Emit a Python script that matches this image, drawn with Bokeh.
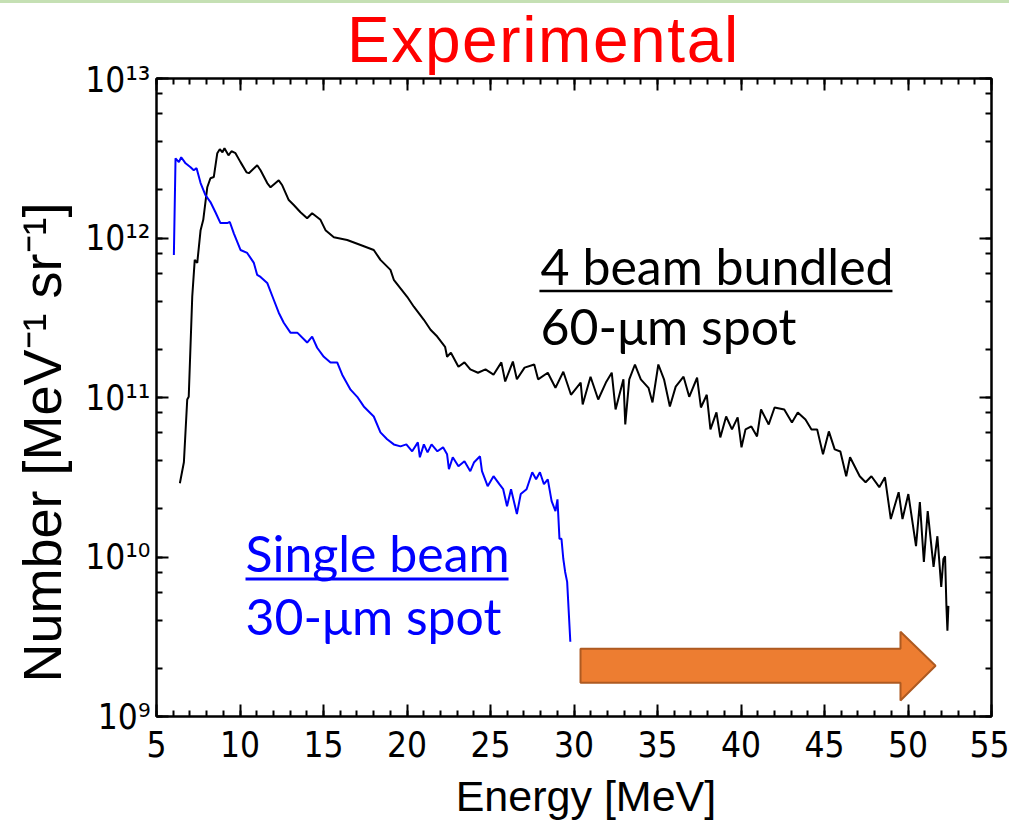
from bokeh.plotting import figure
from bokeh.models import (LinearAxis, LogAxis, SingleIntervalTicker, LogTicker,
                          CustomJSTickFormatter, Label, Div)
from bokeh.layouts import column
from bokeh.embed import file_html
from bokeh.resources import INLINE

# ---------------- data ----------------
energy_4beam = [
    6.40, 6.64, 6.84, 6.93, 7.14, 7.29, 7.44, 7.64, 7.80, 8.04,
    8.23, 8.43, 8.64, 8.79, 8.95, 9.07, 9.31, 9.49, 9.73, 10.03,
    10.39, 10.53, 11.03, 11.23, 11.63, 11.83, 12.32, 12.53, 12.92, 13.22,
    13.62, 14.02, 14.32, 14.82, 15.12, 15.62, 16.42, 17.22, 18.01, 18.41,
    19.01, 19.21, 20.01, 20.41, 21.01, 21.41, 21.81, 22.28, 22.40, 22.63,
    23.08, 23.44, 23.79, 24.25, 24.70, 25.18, 25.65, 25.88, 26.34, 26.58,
    27.04, 27.62, 27.85, 28.43, 28.89, 29.36, 29.82, 30.40, 30.52, 30.99,
    31.45, 31.91, 32.26, 32.49, 32.96, 33.07, 33.31, 33.65, 34.00, 34.46,
    34.70, 35.05, 35.39, 35.74, 36.09, 36.56, 36.90, 37.37, 37.60, 37.95,
    38.17, 38.53, 38.76, 39.11, 39.46, 39.80, 40.03, 40.27, 40.62, 40.96,
    41.20, 41.66, 42.01, 42.59, 43.05, 43.40, 43.86, 44.22, 44.56, 44.91,
    45.26, 45.61, 45.95, 46.30, 46.53, 47.11, 47.46, 47.81, 48.28, 48.62,
    48.97, 49.44, 49.67, 50.02, 50.48, 50.71, 50.95, 51.18, 51.53, 51.76,
    51.99, 52.12, 52.22, 52.30, 52.36, 52.42,
]
number_4beam = [
    2.90e10, 3.93e10, 9.72e10, 1.01e11, 4.28e11, 7.29e11, 6.98e11, 1.12e12, 1.30e12, 2.08e12,
    2.37e12, 2.41e12, 3.40e12, 3.60e12, 3.45e12, 3.65e12, 3.30e12, 3.50e12, 3.40e12, 2.99e12,
    2.58e12, 2.55e12, 2.86e12, 2.66e12, 2.21e12, 2.08e12, 2.30e12, 2.14e12, 1.73e12, 1.61e12,
    1.45e12, 1.33e12, 1.43e12, 1.30e12, 1.12e12, 1.01e12, 9.72e11, 9.04e11, 8.41e11, 7.29e11,
    6.31e11, 5.47e11, 4.28e11, 3.71e11, 3.07e11, 2.66e11, 2.41e11, 2.08e11, 1.80e11, 1.91e11,
    1.56e11, 1.66e11, 1.50e11, 1.43e11, 1.50e11, 1.39e11, 1.66e11, 1.26e11, 1.68e11, 1.30e11,
    1.54e11, 1.61e11, 1.30e11, 1.43e11, 1.15e11, 1.45e11, 1.04e11, 1.24e11, 9.04e10, 1.35e11,
    9.72e10, 1.24e11, 1.43e11, 8.41e10, 1.30e11, 6.77e10, 1.30e11, 1.61e11, 1.30e11, 1.15e11,
    9.31e10, 1.61e11, 1.30e11, 8.79e10, 1.17e11, 1.35e11, 1.01e11, 1.33e11, 8.66e10, 1.04e11,
    6.31e10, 8.06e10, 5.62e10, 7.60e10, 6.31e10, 7.50e10, 4.87e10, 6.31e10, 6.59e10, 5.70e10,
    8.41e10, 6.78e10, 8.66e10, 8.41e10, 6.98e10, 8.06e10, 7.29e10, 6.31e10, 6.31e10, 4.40e10,
    6.13e10, 4.73e10, 4.59e10, 3.21e10, 4.22e10, 3.21e10, 2.94e10, 3.21e10, 2.74e10, 3.16e10,
    1.73e10, 2.55e10, 1.73e10, 2.48e10, 1.17e10, 2.21e10, 9.31e9, 1.94e10, 8.66e9, 1.35e10,
    6.49e9, 9.72e9, 1.01e10, 4.94e9, 3.45e9, 4.94e9,
]

energy_single = [
    6.04, 6.14, 6.34, 6.48, 6.74, 7.04, 7.23, 7.40, 7.64, 7.93,
    8.23, 8.53, 8.83, 9.23, 9.39, 9.63, 10.03, 10.43, 10.83, 11.03,
    11.23, 11.63, 12.02, 12.32, 12.62, 13.02, 13.43, 14.02, 14.32, 14.62,
    15.02, 15.42, 15.82, 16.12, 16.62, 17.02, 17.41, 18.01, 18.41, 18.81,
    19.21, 19.61, 19.96, 20.31, 20.65, 20.77, 21.01, 21.23, 21.47, 21.82,
    22.16, 22.40, 22.51, 22.74, 23.08, 23.44, 23.79, 24.02, 24.37, 24.49,
    24.83, 25.18, 25.53, 25.76, 25.99, 26.23, 26.58, 26.81, 27.16, 27.50,
    27.73, 27.96, 28.20, 28.43, 28.66, 28.89, 29.01, 29.13, 29.25, 29.36,
    29.47, 29.59, 29.78,
]
number_single = [
    7.83e11, 3.16e12, 2.99e12, 3.21e12, 2.94e12, 2.78e12, 2.66e12, 2.74e12, 2.21e12, 1.86e12,
    1.68e12, 1.45e12, 1.24e12, 1.24e12, 1.26e12, 1.07e12, 8.41e11, 8.06e11, 6.98e11, 5.87e11,
    5.70e11, 5.23e11, 4.10e11, 3.40e11, 2.94e11, 2.55e11, 2.55e11, 2.21e11, 2.41e11, 2.05e11,
    1.80e11, 1.66e11, 1.66e11, 1.39e11, 1.12e11, 1.01e11, 8.79e10, 7.60e10, 6.04e10, 5.47e10,
    5.08e10, 4.94e10, 5.08e10, 4.60e10, 5.23e10, 4.22e10, 5.08e10, 4.53e10, 5.08e10, 4.60e10,
    4.87e10, 4.40e10, 3.55e10, 4.22e10, 3.71e10, 3.98e10, 3.45e10, 3.93e10, 4.28e10, 3.45e10,
    2.78e10, 3.21e10, 2.86e10, 2.66e10, 2.08e10, 2.66e10, 1.86e10, 2.48e10, 2.66e10, 3.40e10,
    3.07e10, 3.40e10, 2.86e10, 3.07e10, 2.24e10, 1.94e10, 2.30e10, 1.30e10, 1.30e10, 9.72e9,
    8.06e9, 6.98e9, 2.94e9,
]

x_limits = (5, 55)
y_limits = (1e9, 1e13)
x_tick_step = 5

title_text = "Experimental"
label_4beam = ["4 beam bundled", "60-\u03bcm spot"]
label_single = ["Single beam", "30-\u03bcm spot"]
x_title = "Energy [MeV]"
y_title = "Number [MeV\u207b\u00b9 sr\u207b\u00b9]"

# ---------------- styling ----------------
PLOT_FONT = "'Liberation Sans Narrow', 'DejaVu Sans Condensed', 'Liberation Sans', sans-serif"
AXIS_TITLE_FONT = "'Liberation Sans', sans-serif"
NOTE_FONT = "Lato"
NBSP = "\u00a0"

STRIP_H = 3
TITLE_H = 56
PAGE_H = 822

p = figure(width=1009, height=PAGE_H - STRIP_H - TITLE_H, x_range=x_limits, y_range=y_limits,
           y_axis_type="log", output_backend="svg", toolbar_location=None,
           min_border_left=156, min_border_right=18, min_border_top=19,
           min_border_bottom=104, background_fill_color="white",
           border_fill_color=None)
p.xgrid.visible = False
p.ygrid.visible = False
p.outline_line_color = "black"
p.outline_line_width = 2
p.title.text = ""
p.title.text_font_size = "1px"
p.title.standoff = 0

xticker = SingleIntervalTicker(interval=x_tick_step, num_minor_ticks=5)
yticker = LogTicker()

sup_js = """
const s = {"0":"\u2070","1":"\u00b9","2":"\u00b2","3":"\u00b3","4":"\u2074","5":"\u2075",
           "6":"\u2076","7":"\u2077","8":"\u2078","9":"\u2079","-":"\u207b"};
const e = Math.round(Math.log10(tick));
return "10" + String(e).split("").map(c => s[c]).join("");
"""

def style_axis(ax, show_labels):
    ax.axis_line_width = 2
    ax.axis_line_color = "black"
    ax.major_tick_in = 12
    ax.major_tick_out = 0
    ax.minor_tick_in = 6
    ax.minor_tick_out = 0
    ax.major_tick_line_width = 2
    ax.minor_tick_line_width = 2
    ax.major_tick_line_color = "black"
    ax.minor_tick_line_color = "black"
    if show_labels:
        ax.major_label_text_font = PLOT_FONT
        ax.major_label_text_font_size = "35px"
        ax.major_label_text_color = "black"
        ax.axis_label_text_font = AXIS_TITLE_FONT
        ax.axis_label_text_font_style = "normal"
        ax.axis_label_text_color = "black"
    else:
        ax.major_label_text_font_size = "1px"
        ax.major_label_text_color = None
        ax.major_label_standoff = 0

xax = p.xaxis[0]
xax.ticker = xticker
style_axis(xax, True)
xax.axis_label = NBSP * 2 + x_title
xax.axis_label_text_font_size = "43px"
xax.major_label_standoff = 14
xax.axis_label_standoff = 12

yax = p.yaxis[0]
yax.ticker = yticker
yax.formatter = CustomJSTickFormatter(code=sup_js)
style_axis(yax, True)
yax.axis_label = y_title + NBSP * 6
yax.axis_label_text_font_size = "54px"
yax.major_label_standoff = 6
yax.axis_label_standoff = 10

top_ax = LinearAxis(ticker=xticker)
style_axis(top_ax, False)
p.add_layout(top_ax, "above")
right_ax = LogAxis(ticker=yticker)
style_axis(right_ax, False)
p.add_layout(right_ax, "right")

# ---------------- curves ----------------
p.line(energy_4beam, number_4beam, line_color="black", line_width=2)
p.line(energy_single, number_single, line_color="#0000FF", line_width=2)

# ---------------- orange arrow (decoration) ----------------
arrow_x = [30.39, 49.55, 49.55, 51.65, 49.55, 49.55, 30.39]
arrow_y = [2.66e9, 2.66e9, 3.40e9, 2.08e9, 1.26e9, 1.63e9, 1.63e9]
p.patch(arrow_x, arrow_y, fill_color="#ED7D31", line_color="#AE5A21", line_width=2)

# ---------------- annotations ----------------
p.add_layout(Label(x=28.0, y=6.68e11, text=label_4beam[0], text_baseline="alphabetic",
                   text_color="black", text_font=NOTE_FONT, text_font_size="50px"))
p.add_layout(Label(x=28.0, y=2.81e11, text=label_4beam[1], text_baseline="alphabetic",
                   text_color="black", text_font=NOTE_FONT, text_font_size="50px"))
p.segment(x0=[27.93], y0=[4.66e11], x1=[49.07], y1=[4.66e11], line_color="black", line_width=2.5)

p.add_layout(Label(x=10.33, y=1.059e10, text=label_single[0], text_baseline="alphabetic",
                   text_color="#0000FF", text_font=NOTE_FONT, text_font_size="50px"))
p.add_layout(Label(x=10.33, y=4.27e9, text=label_single[1], text_baseline="alphabetic",
                   text_color="#0000FF", text_font=NOTE_FONT, text_font_size="50px"))
p.segment(x0=[10.33], y0=[7.29e9], x1=[26.08], y1=[7.29e9], line_color="#0000FF", line_width=3)

strip = Div(text="", width=1009, height=STRIP_H, margin=0,
            styles={"background-color": "#C5E0B4"})
title_div = Div(
    text=('<div style="font-family: \'Liberation Sans\', sans-serif; font-size: 64px; '
          'line-height: normal; letter-spacing: 1.6px; color: #FF0000; '
          'padding-left: 347px; margin: 0; white-space: nowrap;">'
          + title_text + '</div>'),
    width=1009, height=TITLE_H, margin=0, styles={"overflow": "visible", "z-index": "1"})
layout = column(strip, title_div, p, spacing=0)

with open("out.html", "w", encoding="utf-8") as f:
    f.write(file_html(layout, INLINE))
